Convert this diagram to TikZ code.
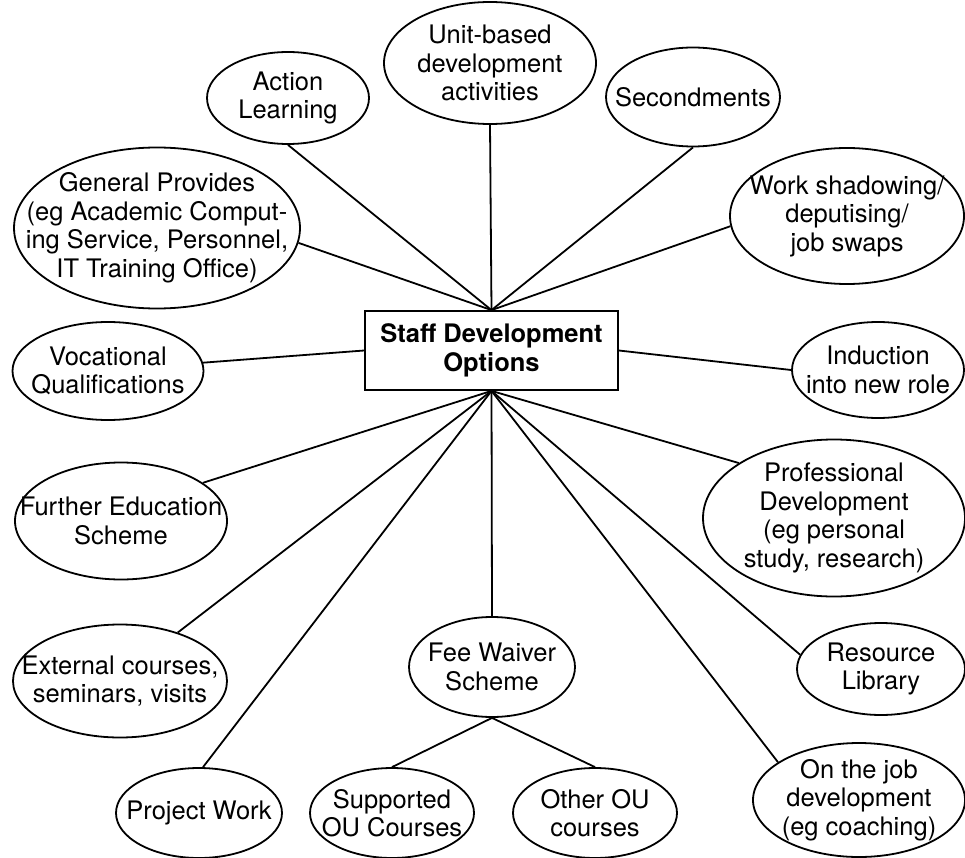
\documentclass[tikz,border=0pt]{standalone}
\usepackage{fontspec}
\setmainfont{TeX Gyre Heros}
\usetikzlibrary{shapes.geometric}
\begin{document}
\begin{tikzpicture}[x=1pt,y=-1pt,
  txt/.style={font=\fontsize{25.5}{28.5}\selectfont, align=center, inner sep=0pt},
  opt/.style={ellipse, draw, line width=1.8pt, inner sep=0pt},
  link/.style={line width=1.8pt}]
\useasboundingbox (0,0) rectangle (965,858);
% central box
\node[draw, line width=1.8pt, minimum width=253, minimum height=79, inner sep=0pt] (box) at (491.5,350.5) {};
\node[txt, font=\fontsize{25.5}{28.5}\selectfont\bfseries] (boxt) at (box) {Staff Development\\Options};
\coordinate (top) at (box.north);
\coordinate (bot) at (box.south);
% ellipses
\node[opt, minimum width=162, minimum height=92] (al) at (288,98) {};
\node[txt] (alt) at (al) {Action\\Learning};
\node[opt, minimum width=212, minimum height=122] (ub) at (490,63) {};
\node[txt] (ubt) at (ub) {Unit-based\\development\\activities};
\node[opt, minimum width=174, minimum height=99] (sec) at (693,97) {};
\node[txt] (sect) at (sec) {Secondments};
\node[opt, minimum width=234, minimum height=136] (ws) at (847,216) {};
\node[txt] (wst) at (ws) {Work shadowing/\\deputising/\\job swaps};
\node[opt, minimum width=286, minimum height=161] (gp) at (157,228) {};
\node[txt] (gpt) at (gp) {General Provides\\(eg Academic Comput-\\ing Service, Personnel,\\IT Training Office)};
\node[opt, minimum width=191, minimum height=98] (vq) at (108,371) {};
\node[txt] (vqt) at (vq) {Vocational\\Qualifications};
\node[opt, minimum width=172, minimum height=96] (ind) at (878,370) {};
\node[txt] (indt) at (ind) {Induction\\into new role};
\node[opt, minimum width=212, minimum height=117] (fe) at (121,521) {};
\node[txt] (fet) at (fe) {Further Education\\Scheme};
\node[opt, minimum width=262, minimum height=157] (pd) at (834,518) {};
\node[txt] (pdt) at (pd) {Professional\\Development\\(eg personal\\study, research)};
\node[opt, minimum width=214, minimum height=113] (ec) at (120,681) {};
\node[txt] (ect) at (ec) {External courses,\\seminars, visits};
\node[opt, minimum width=166, minimum height=100] (fw) at (492,667) {};
\node[txt] (fwt) at (fw) {Fee Waiver\\Scheme};
\node[opt, minimum width=168, minimum height=92] (rl) at (881,669) {};
\node[txt] (rlt) at (rl) {Resource\\Library};
\node[opt, minimum width=166, minimum height=90] (pw) at (199,813) {};
\node[txt] (pwt) at (pw) {Project Work};
\node[opt, minimum width=164, minimum height=90] (sup) at (392,813) {};
\node[txt] (supt) at (sup) {Supported\\OU Courses};
\node[opt, minimum width=164, minimum height=90] (oth) at (595,813) {};
\node[txt] (otht) at (oth) {Other OU\\courses};
\node[opt, minimum width=212, minimum height=114] (oj) at (859,800) {};
\node[txt] (ojt) at (oj) {On the job\\development\\(eg coaching)};
% connectors from top
\draw[link] (al.south) -- (top);
\draw[link] (ub.south) -- (top);
\draw[link] (sec.south) -- (top);
\draw[link] (ws.185) -- (top);
\draw[link] (gp.-6) -- (top);
% sides
\draw[link] (vq.5) -- (box.west);
\draw[link] (box.east) -- (ind.west);
% connectors from bottom
\draw[link] (fe.25) -- (bot);
\draw[link] (ec.40) -- (bot);
\draw[link] (pw.85) -- (bot);
\draw[link] (fw.north) -- (bot);
\draw[link] (rl.170) -- (bot);
\draw[link] (oj.155) -- (bot);
\draw[link] (pd.150) -- (bot);
% fee waiver children
\draw[link] (fw.south) -- (sup.north);
\draw[link] (fw.south) -- (oth.north);
\end{tikzpicture}
\end{document}
